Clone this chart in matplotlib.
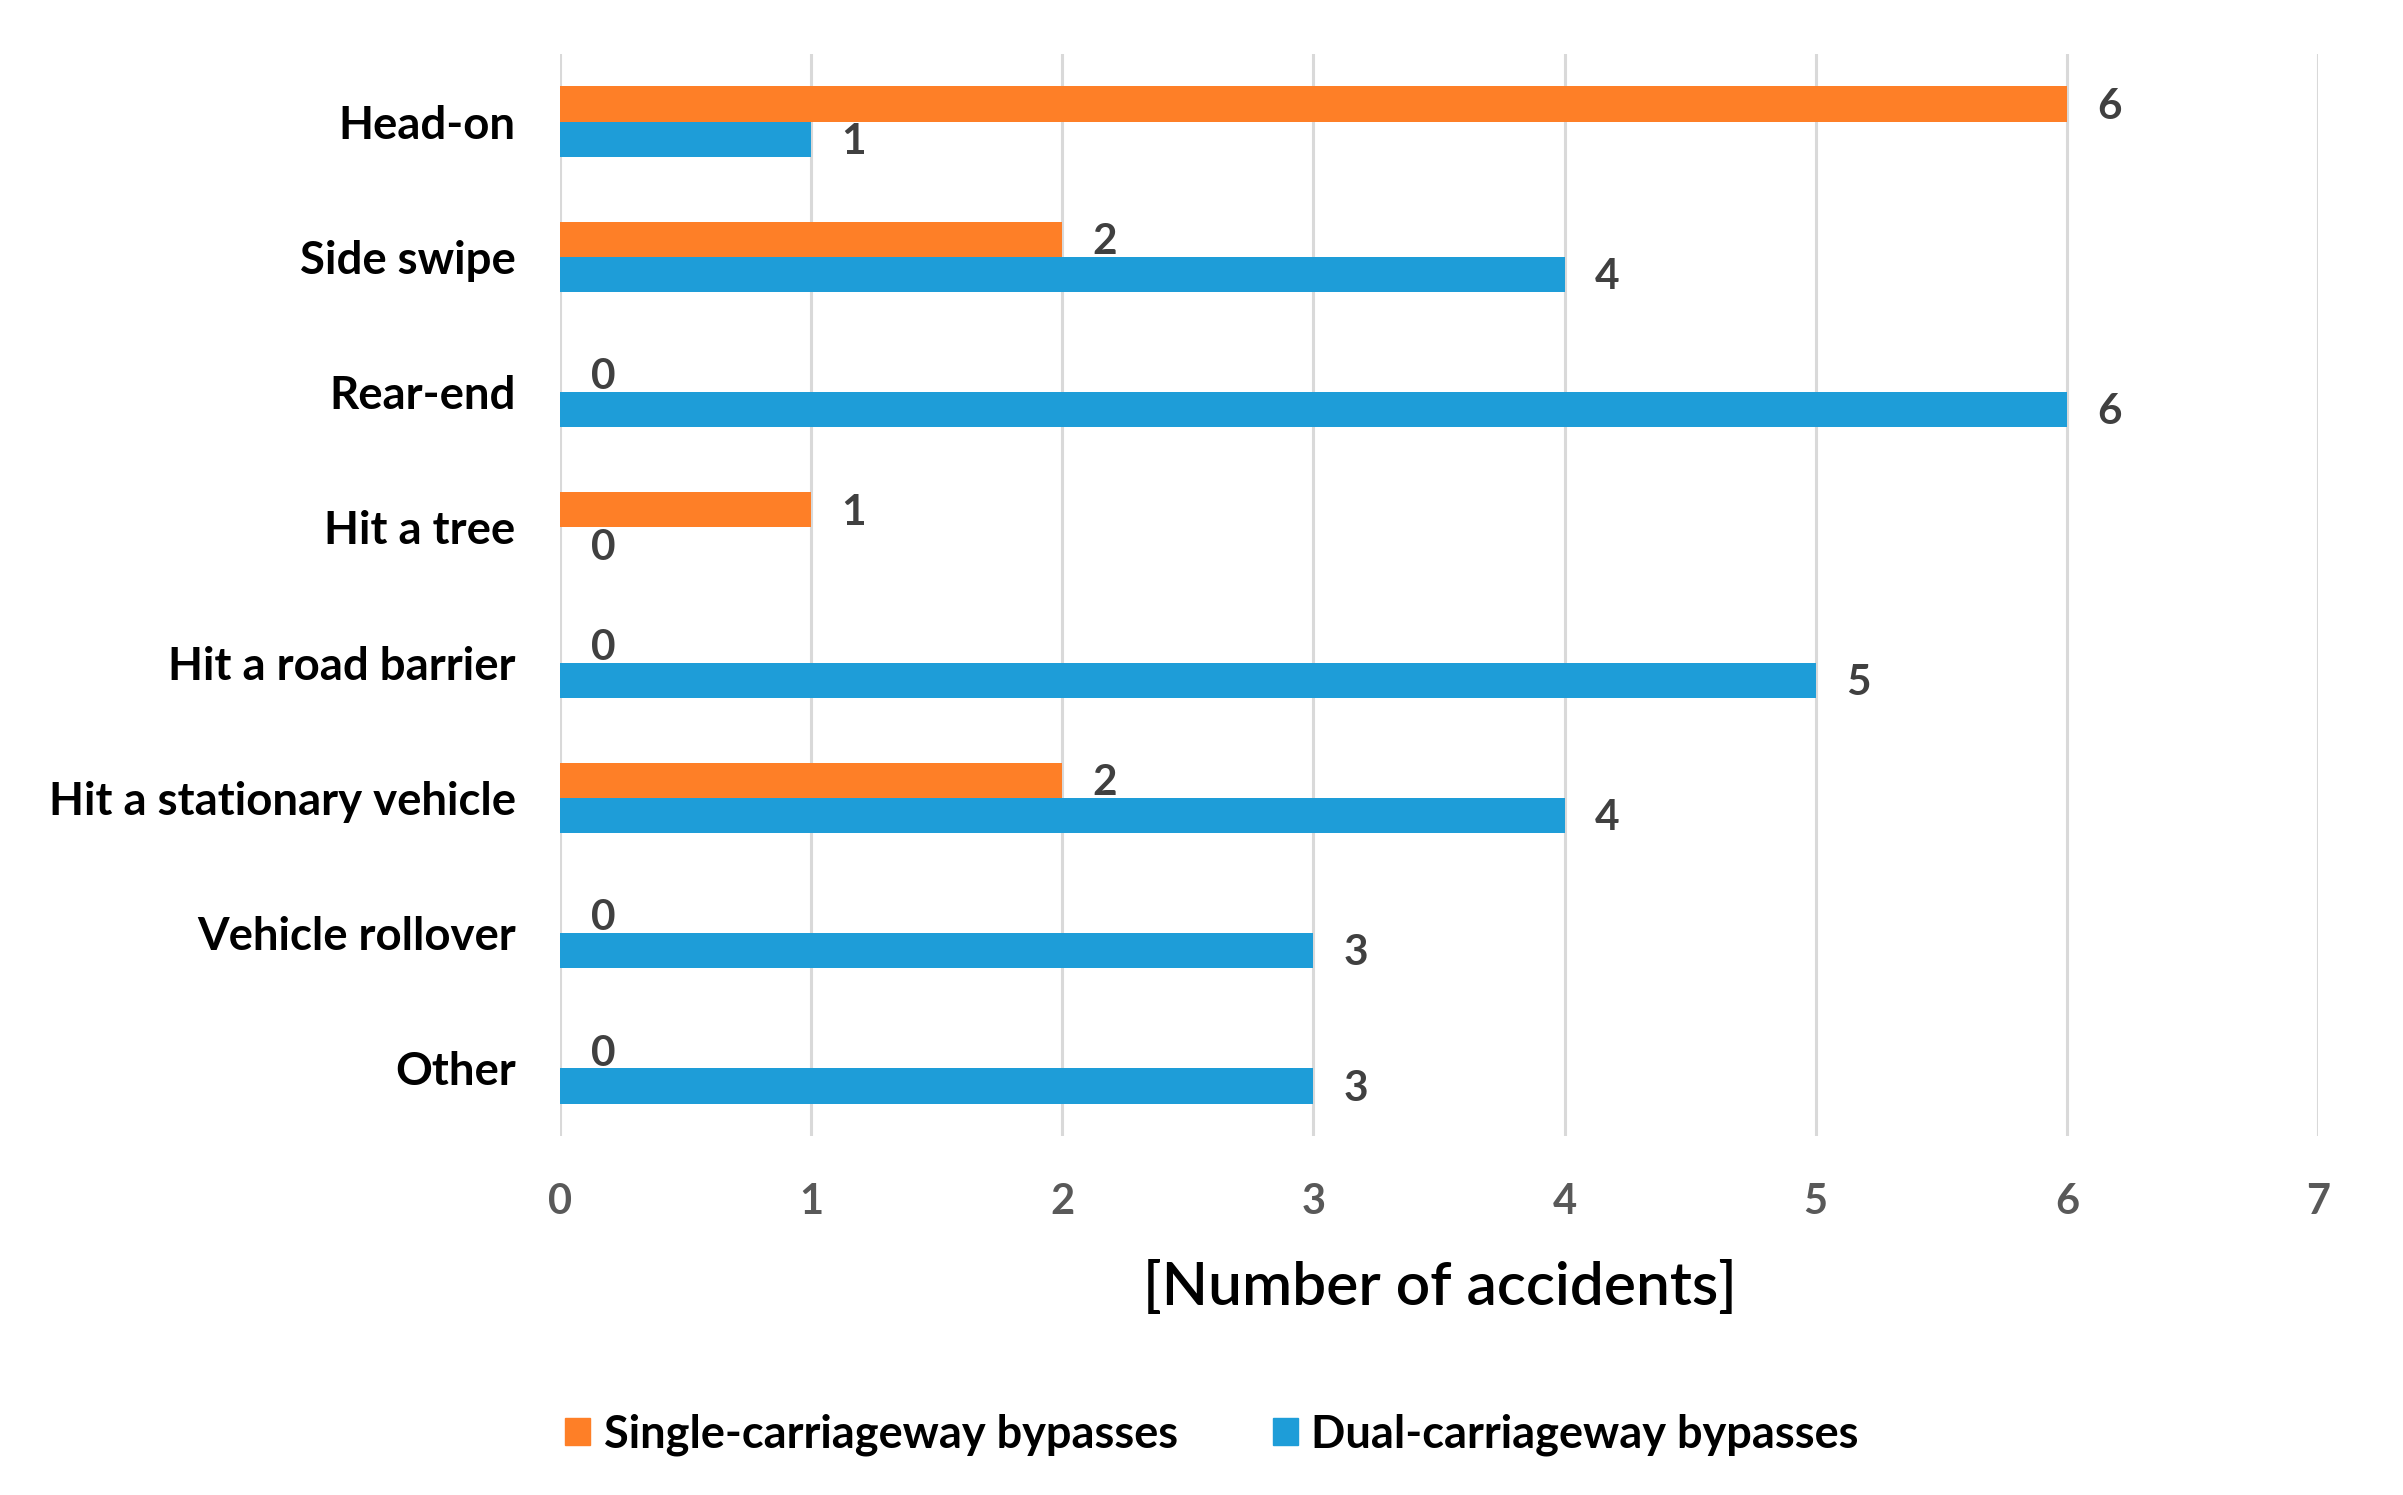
import matplotlib.pyplot as plt
from matplotlib.patches import Patch
import numpy as np

# Data
categories = ['Head-on', 'Side swipe', 'Rear-end', 'Hit a tree',
              'Hit a road barrier', 'Hit a stationary vehicle',
              'Vehicle rollover', 'Other']
single = [6, 2, 0, 1, 0, 2, 0, 0]
dual = [1, 4, 6, 0, 5, 4, 3, 3]
xticks = [0, 1, 2, 3, 4, 5, 6, 7]

orange = '#FE7F27'
blue = '#1E9DD8'
font = ['Lato', 'DejaVu Sans']
plt.rcParams['font.family'] = font

W, H = 2403, 1495
fig = plt.figure(figsize=(W / 100, H / 100), dpi=100)
ax = fig.add_axes([560 / W, 1 - 1136 / H, (2318 - 560) / W, (1136 - 54) / H])

y = np.arange(len(categories))
h = 0.26
ax.barh(y - h / 2, single, height=h, color=orange, zorder=3)
ax.barh(y + h / 2, dual, height=h, color=blue, zorder=3)

for i in range(len(categories)):
    ax.annotate(str(single[i]), xy=(single[i], y[i] - h / 2), xytext=(22, -2),
                textcoords='offset points', va='center', ha='left',
                fontsize=30.5, fontweight='bold', color='#404040')
    ax.annotate(str(dual[i]), xy=(dual[i], y[i] + h / 2), xytext=(22, -2),
                textcoords='offset points', va='center', ha='left',
                fontsize=30.5, fontweight='bold', color='#404040')

ax.set_xlim(0, 7)
ax.set_ylim(len(categories) - 0.5, -0.5)
ax.set_xticks(xticks)
ax.set_yticks(y)
ax.set_yticklabels(categories)
ax.tick_params(axis='y', length=0, pad=32, labelsize=32.8, colors='#000000')
ax.tick_params(axis='x', length=0, pad=34, labelsize=30, colors='#595959')
for lbl in ax.get_yticklabels() + ax.get_xticklabels():
    lbl.set_fontweight('bold')
ax.grid(axis='x', color='#D9D9D9', linewidth=2.2, zorder=0)
for s in ax.spines.values():
    s.set_visible(False)

fig.text(1440 / W, 1 - 1288 / H, '[Number of accidents]', ha='center', va='center',
         fontsize=43.5, fontweight='semibold', color='#000000')

handles = [Patch(color=orange, label='Single-carriageway bypasses'),
           Patch(color=blue, label='Dual-carriageway bypasses')]
leg = fig.legend(handles=handles, loc='center', ncol=2,
                 bbox_to_anchor=(1212 / W, 1 - 1435 / H), frameon=False,
                 prop={'family': font, 'size': 32.5, 'weight': 'bold'},
                 handlelength=0.55, handleheight=0.55, handletextpad=0.3,
                 columnspacing=2.1)

fig.savefig('out.png', dpi=100, facecolor='white')
